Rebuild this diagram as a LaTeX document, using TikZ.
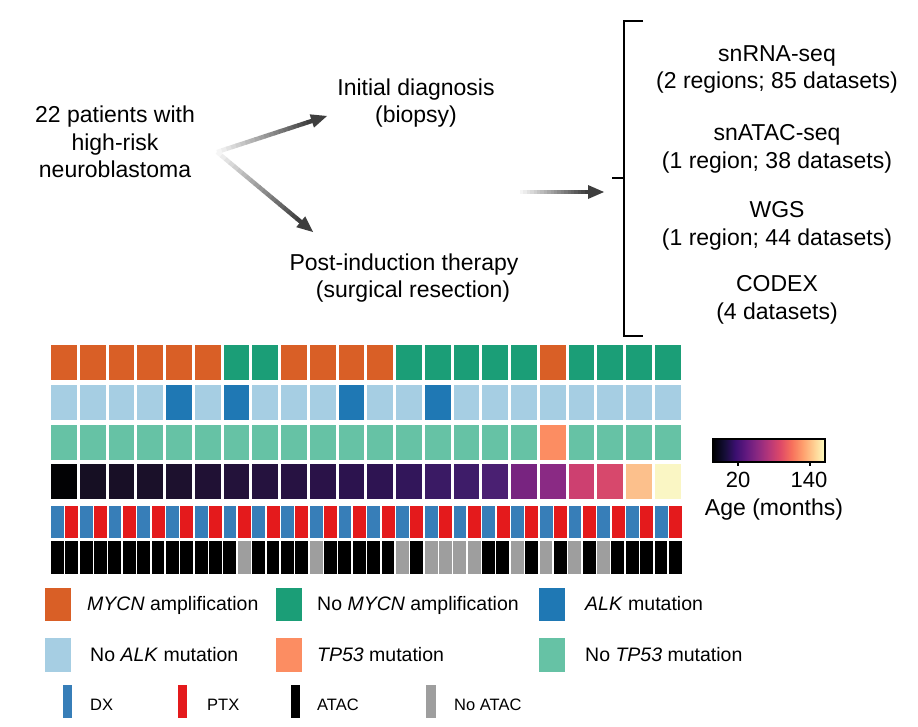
\documentclass[tikz,border=0pt]{standalone}
\usepackage{fontspec}
\setmainfont{Liberation Sans}
\usepackage{xcolor}
\usetikzlibrary{calc}

\definecolor{mycnamp}{RGB}{217,95,38}
\definecolor{mycnno}{RGB}{27,158,119}
\definecolor{alkmut}{RGB}{31,120,180}
\definecolor{alkno}{RGB}{166,206,227}
\definecolor{tpmut}{RGB}{252,141,98}
\definecolor{tpno}{RGB}{102,194,165}
\definecolor{dxblue}{RGB}{55,126,184}
\definecolor{ptxred}{RGB}{228,26,28}
\definecolor{noatac}{RGB}{158,158,158}
\definecolor{arrowgray}{RGB}{62,62,62}
\definecolor{mg0}{HTML}{000004}
\definecolor{mg1}{HTML}{140E36}
\definecolor{mg2}{HTML}{3B0F70}
\definecolor{mg3}{HTML}{641A80}
\definecolor{mg4}{HTML}{8C2981}
\definecolor{mg5}{HTML}{B73779}
\definecolor{mg6}{HTML}{DE4968}
\definecolor{mg7}{HTML}{F7705C}
\definecolor{mg8}{HTML}{FE9F6D}
\definecolor{mg9}{HTML}{FECF92}
\definecolor{mg10}{HTML}{FCFDBF}
\pgfdeclarehorizontalshading{magmabar}{100bp}{color(0bp)=(mg0); color(25bp)=(mg0);
  color(30bp)=(mg1); color(35bp)=(mg2); color(40bp)=(mg3); color(45bp)=(mg4);
  color(50bp)=(mg5); color(55bp)=(mg6); color(60bp)=(mg7); color(65bp)=(mg8);
  color(70bp)=(mg9); color(75bp)=(mg10); color(100bp)=(mg10)}

\tikzset{
  bigtxt/.style={font=\fontsize{23}{27.5}\selectfont, align=center, inner sep=0pt},
  legtxt/.style={font=\fontsize{19.5}{23}\selectfont, anchor=base west, inner sep=0pt},
  smalltxt/.style={font=\fontsize{16.5}{19}\selectfont, anchor=base west, inner sep=0pt},
}

% shaft fading from white to grey, then a solid head
\newcommand{\fadearrow}[2]{%
  \coordinate (hb) at ($(#2)!16pt!(#1)$);
  \foreach \k in {0,...,19}{%
    \pgfmathsetmacro{\shadepct}{5+95*\k/19}
    \draw[line width=4.4pt, arrowgray!\shadepct!white]
      ($(#1)!{\k/20}!(hb)$) -- ($(#1)!{(\k+1.1)/20}!(hb)$);
  }
  \fill[arrowgray] (#2) -- ($(hb)!7pt!90:(#2)$) -- ($(hb)!7pt!-90:(#2)$) -- cycle;
}

\begin{document}
\begin{tikzpicture}[x=1pt, y=-1pt]
  \useasboundingbox (0,0) rectangle (918,726);

  % samples and timepoints
  \node[bigtxt] (patients) at (115,142) {22 patients with\\high-risk\\neuroblastoma};
  \node[bigtxt] (diag) at (416,103) {Initial diagnosis\\(biopsy)};
  \node[bigtxt] (postind) at (404,278) {Post-induction therapy\\\hspace*{18pt}(surgical resection)};
  \coordinate (split) at (217,152);
  \coordinate (diagtip) at (327,116);
  \coordinate (posttip) at (313,232);
  \coordinate (datafrom) at (520,192);
  \coordinate (datato) at (604,192);
  \fadearrow{split}{diagtip}
  \fadearrow{split}{posttip}
  \fadearrow{datafrom}{datato}

  % data modalities
  \draw[line width=2.4pt] (643,20.7) -- (624,20.7) -- (624,336) -- (643,336);
  \draw[line width=2.4pt] (612,178) -- (624,178);
  \node[bigtxt] (rna) at (777,69.5) {snRNA-seq\\(2 regions; 85 datasets)};
  \node[bigtxt] (atac) at (777,149) {snATAC-seq\\(1 region; 38 datasets)};
  \node[bigtxt] (wgs) at (777,226) {WGS\\(1 region; 44 datasets)};
  \node[bigtxt] (codex) at (777,300) {CODEX\\(4 datasets)};

  % clinical tracks
  \foreach \c [count=\i] in {mycnamp,mycnamp,mycnamp,mycnamp,mycnamp,mycnamp,mycnno,mycnno,
      mycnamp,mycnamp,mycnamp,mycnamp,mycnno,mycnno,mycnno,mycnno,mycnno,mycnamp,
      mycnno,mycnno,mycnno,mycnno}
    \fill[\c] ({51+(\i-1)*28.75},345) rectangle ++(25.8,35);
  \foreach \c [count=\i] in {alkno,alkno,alkno,alkno,alkmut,alkno,alkmut,alkno,alkno,alkno,
      alkmut,alkno,alkno,alkmut,alkno,alkno,alkno,alkno,alkno,alkno,alkno,alkno}
    \fill[\c] ({51+(\i-1)*28.75},385) rectangle ++(25.8,35);
  \foreach \c [count=\i] in {tpno,tpno,tpno,tpno,tpno,tpno,tpno,tpno,tpno,tpno,tpno,tpno,
      tpno,tpno,tpno,tpno,tpno,tpmut,tpno,tpno,tpno,tpno}
    \fill[\c] ({51+(\i-1)*28.75},424.5) rectangle ++(25.8,35);
  \foreach \r/\g/\b [count=\i] in {2/2/4, 22/15/35, 24/15/38, 26/16/41, 29/17/46, 32/17/52,
      35/18/58, 37/18/62, 39/18/66, 42/18/72, 44/19/78, 46/20/82, 50/22/90, 58/26/100,
      62/28/105, 74/32/114, 120/36/128, 138/42/132, 205/64/112, 215/72/108,
      252/192/140, 250/246/196}
    \fill[fill={rgb,255:red,\r;green,\g;blue,\b}] ({51+(\i-1)*28.75},464) rectangle ++(25.8,35);

  % timepoint and ATAC tracks
  \foreach \i in {0,...,21}{
    \fill[dxblue] ({51+\i*28.75},506) rectangle ++(12.9,32);
    \fill[ptxred] ({51+\i*28.75+14.37},506) rectangle ++(12.9,32);
  }
  \foreach \c [count=\i] in {black,black,black,black,black,black,black,black,black,black,
      black,black,black,noatac,black,black,black,black,noatac,black,black,black,black,
      black,noatac,black,noatac,noatac,noatac,noatac,black,black,noatac,black,noatac,
      black,noatac,black,noatac,black,black,black,black,black}
    \fill[\c] ({51+(\i-1)*14.37},541) rectangle ++(12.9,33);

  % age colour bar
  \shade[shading=magmabar] (713,439) rectangle (825,462);
  \draw[line width=1.1pt] (713,439) rectangle (825,462);
  \draw[line width=1.1pt] (738,462) -- (738,466);
  \draw[line width=1.1pt] (810,462) -- (810,466);
  \node[bigtxt, font=\fontsize{22}{26}\selectfont] (tick20) at (738,480) {20};
  \node[bigtxt, font=\fontsize{22}{26}\selectfont] (tick140) at (809,480) {140};
  \node[bigtxt] (agelabel) at (774,510) {Age (months)};

  % legend
  \fill[mycnamp] (45,588) rectangle (71,621);
  \node[legtxt] (legmycn) at (87,610) {\textit{MYCN} amplification};
  \fill[mycnno] (276,588) rectangle (302,621);
  \node[legtxt] (legnomycn) at (317,610) {No \textit{MYCN} amplification};
  \fill[alkmut] (539,588) rectangle (565,621);
  \node[legtxt] (legalk) at (585,610) {\textit{ALK} mutation};
  \fill[alkno] (45,638) rectangle (71,672);
  \node[legtxt] (legnoalk) at (90,661) {No \textit{ALK} mutation};
  \fill[tpmut] (276,638) rectangle (302,672);
  \node[legtxt] (legtp) at (317,661) {\textit{TP53} mutation};
  \fill[tpno] (539,638) rectangle (565,672);
  \node[legtxt] (legnotp) at (585,661) {No \textit{TP53} mutation};
  \fill[dxblue] (63,685) rectangle (72,718);
  \node[smalltxt] (legdx) at (90,710) {DX};
  \fill[ptxred] (178,685) rectangle (187,718);
  \node[smalltxt] (legptx) at (207,710) {PTX};
  \fill[black] (291,685) rectangle (300,718);
  \node[smalltxt] (legatac) at (317,710) {ATAC};
  \fill[noatac] (426,685) rectangle (436,718);
  \node[smalltxt] (legnoatac) at (454,710) {No ATAC};
\end{tikzpicture}
\end{document}
